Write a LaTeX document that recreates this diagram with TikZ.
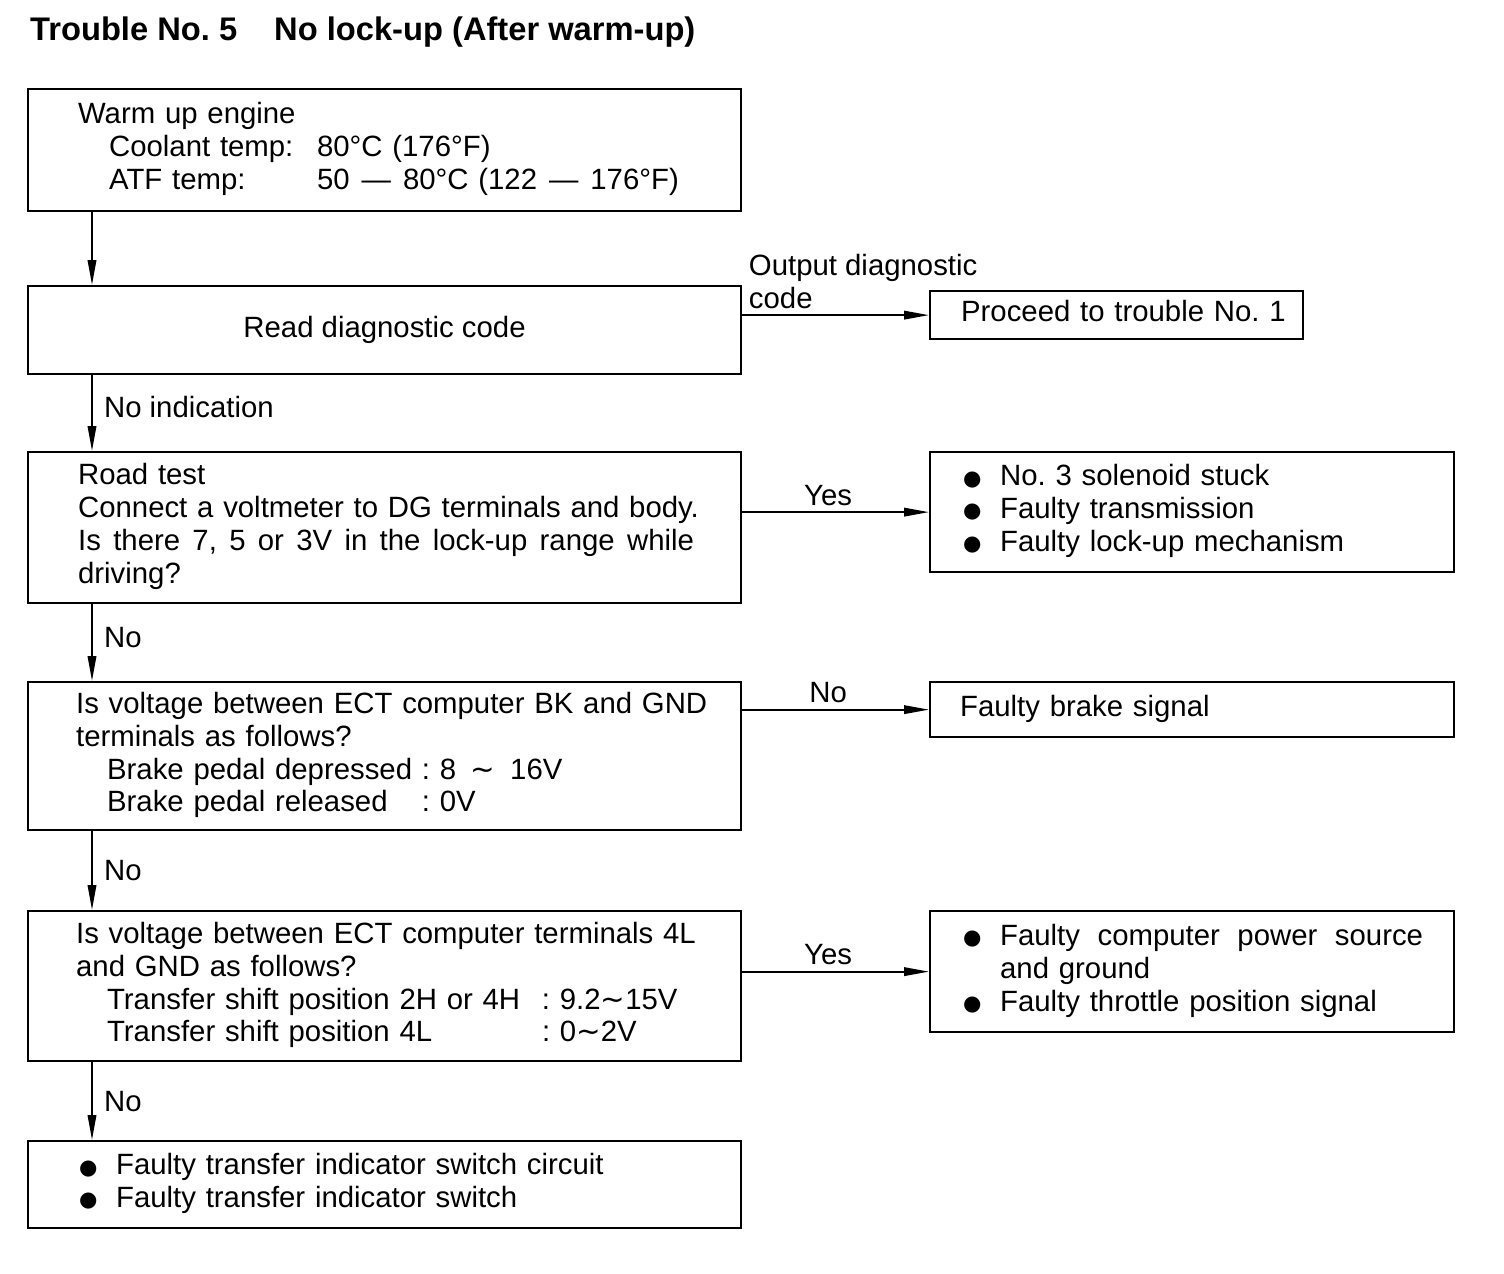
\documentclass[tikz,border=0pt]{standalone}
\usepackage{fontspec}
\setmainfont{Liberation Sans}
\newfontfamily\dejavu{DejaVu Sans}
\usepackage{tikz}
\usetikzlibrary{arrows.meta}
\frenchspacing

\newcommand{\boxrows}[1]{\begin{tabular}{@{}l@{}}#1\end{tabular}}
\newcommand{\bul}{\makebox[0.74cm][l]{\raisebox{0.05ex}{\dejavu\fontsize{12}{12}\selectfont ●}}}
\newcommand{\wave}{{\dejavu ∼}}
\newcommand{\spread}[2]{\hbox to #1{\spaceskip=0.278em plus 1fil\relax #2}}

\begin{document}
\begin{tikzpicture}[x=0.02cm,y=-0.02cm,font=\fontsize{16.7}{18.7}\selectfont,
  box/.style={draw,line width=1.3pt,anchor=north west,inner xsep=0pt,align=left,minimum width=14.26cm},
  side/.style={box,minimum width=10.48cm},
  arr/.style={line width=1.1pt,-{Triangle[length=0.5cm,width=0.17cm]}},
  lab/.style={right=3pt}]
\useasboundingbox (0,0) rectangle (1504,1274);
\coordinate (spine) at (92,0);

\node[anchor=base west,font=\fontsize{18.6}{20}\selectfont\bfseries] (title) at (24,41)
  {Trouble No. 5\hspace{0.74cm}No lock-up (After warm-up)};

\node[box,text width=12.26cm,minimum height=2.44cm] (warm) at (27,88) {\boxrows{Warm up engine\\
  \hspace{0.62cm}\makebox[4.16cm][l]{Coolant temp:}80°C (176°F)\\
  \hspace{0.62cm}\makebox[4.16cm][l]{ATF temp:}50\hspace{0.24cm}---\hspace{0.24cm}80°C (122\hspace{0.24cm}---\hspace{0.24cm}176°F)}};
\node[box,align=center,minimum height=1.76cm] (read) at (27,285) {Read diagnostic code};
\node[box,text width=12.26cm,minimum height=3.02cm] (road) at (27,451) {\boxrows{Road test\\
  Connect a voltmeter to DG terminals and body.\\
  \spread{12.32cm}{Is there 7, 5 or 3V in the lock-up range while}\\
  driving?}};
\node[box,text width=12.34cm,minimum height=2.96cm] (brk) at (27,681) {\boxrows{Is voltage between ECT computer BK and GND\\
  terminals as follows?\\
  \hspace{0.62cm}\makebox[6.3cm][l]{Brake pedal depressed}: 8\enspace\wave\enspace16V\\
  \hspace{0.62cm}\makebox[6.3cm][l]{Brake pedal released}: 0V}};
\node[box,text width=12.34cm,minimum height=3cm] (four) at (27,910) {\boxrows{Is voltage between ECT computer terminals 4L\\
  and GND as follows?\\
  \hspace{0.62cm}\makebox[8.7cm][l]{Transfer shift position 2H or 4H}: 9.2\wave15V\\
  \hspace{0.62cm}\makebox[8.7cm][l]{Transfer shift position 4L}: 0\wave2V}};
\node[box,text width=12.22cm,minimum height=1.74cm] (sw) at (27,1140) {\boxrows{\bul Faulty transfer indicator switch circuit\\
  \bul Faulty transfer indicator switch}};

\node[side,minimum width=7.46cm,text width=6.22cm,minimum height=0.96cm] (proc) at (929,290) {\boxrows{Proceed to trouble No. 1}};
\node[side,text width=9.16cm,minimum height=2.4cm] (sol) at (929,451) {\boxrows{\bul No. 3 solenoid stuck\\
  \bul Faulty transmission\\
  \bul Faulty lock-up mechanism}};
\node[side,text width=9.28cm,minimum height=1.1cm] (brsig) at (929,681) {\boxrows{Faulty brake signal}};
\node[side,text width=9.16cm,minimum height=2.42cm] (pwr) at (929,910) {\boxrows{\bul\spread{8.46cm}{Faulty computer power source}\\
  \hspace{0.74cm}and ground\\
  \bul Faulty throttle position signal}};

\draw[arr] (warm.south -| spine) -- (read.north -| spine);
\draw[arr] (read.south -| spine) -- node[lab,pos=0.42] {No indication} (road.north -| spine);
\draw[arr] (road.south -| spine) -- node[lab,pos=0.44] {No} (brk.north -| spine);
\draw[arr] (brk.south -| spine) -- node[lab] {No} (four.north -| spine);
\draw[arr] (four.south -| spine) -- node[lab] {No} (sw.north -| spine);

\draw[arr] (read.east |- proc.west) -- node[pos=0,above right,align=left] {Output diagnostic\\code} (proc.west);
\draw[arr] (road.east |- sol.west) -- node[pos=0.46,above] {Yes} (sol.west);
\draw[arr] (brk.east |- brsig.west) -- node[pos=0.46,above] {No} (brsig.west);
\draw[arr] (four.east |- pwr.west) -- node[pos=0.46,above] {Yes} (pwr.west);
\end{tikzpicture}
\end{document}
